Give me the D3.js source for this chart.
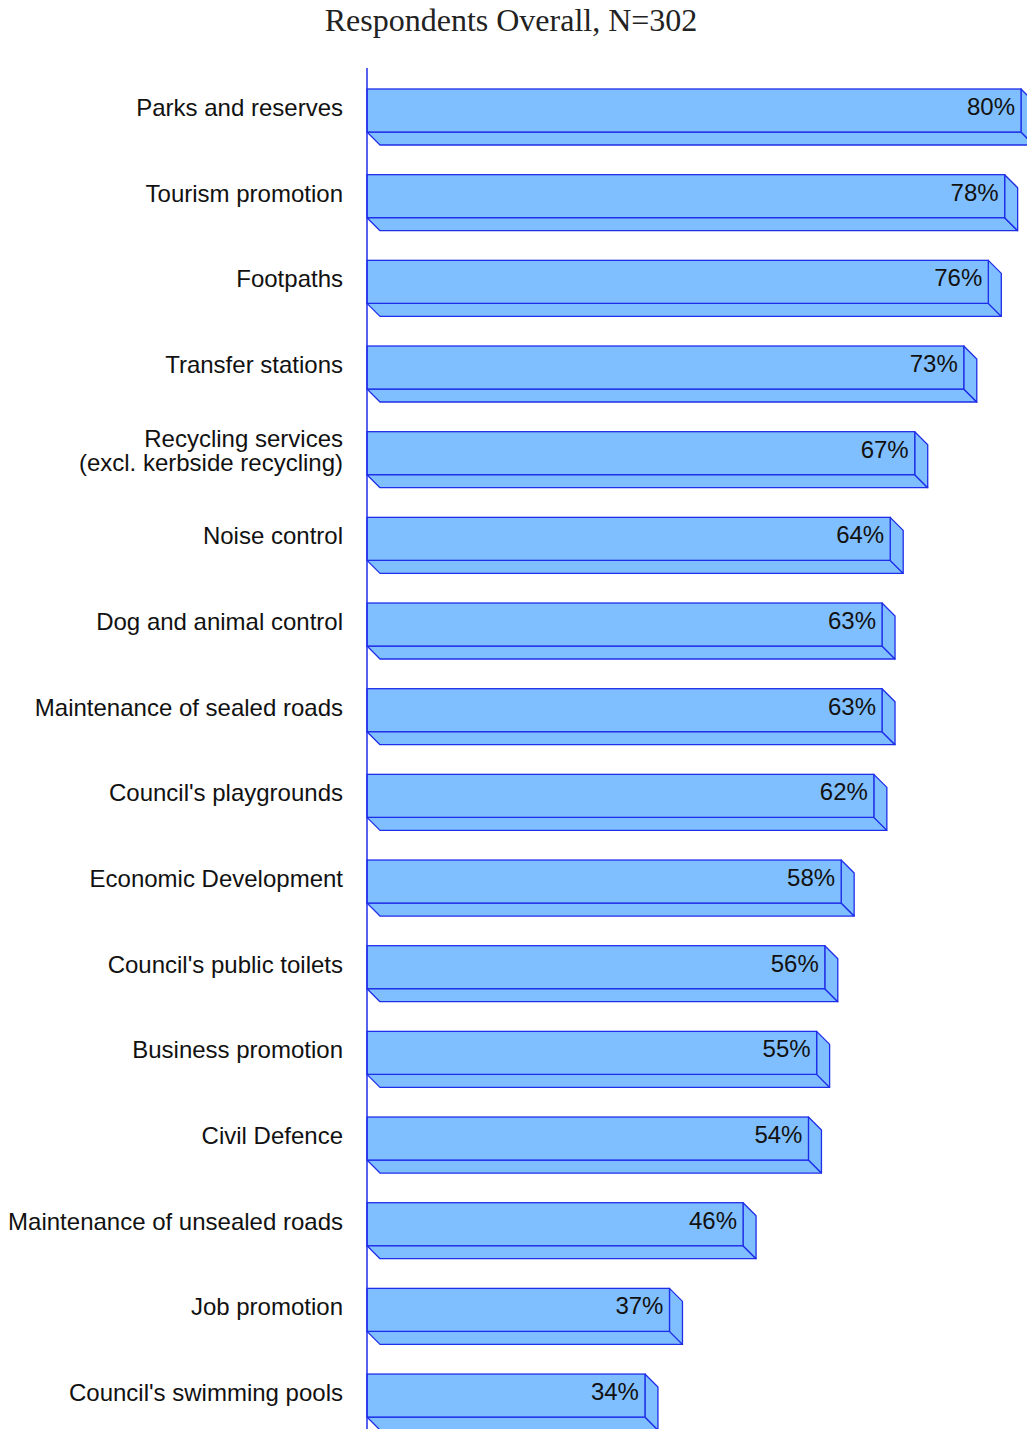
<!DOCTYPE html>
<html>
<head>
<meta charset="utf-8">
<script src="https://cdn.jsdelivr.net/npm/d3@7"></script>
<style>
  html, body { margin: 0; padding: 0; background: #fff; }
  svg { display: block; }
</style>
</head>
<body>
<script>
// Service importance ratings, share of respondents
const categories = [
  "Parks and reserves",
  "Tourism promotion",
  "Footpaths",
  "Transfer stations",
  "Recycling services\n(excl. kerbside recycling)",
  "Noise control",
  "Dog and animal control",
  "Maintenance of sealed roads",
  "Council's playgrounds",
  "Economic Development",
  "Council's public toilets",
  "Business promotion",
  "Civil Defence",
  "Maintenance of unsealed roads",
  "Job promotion",
  "Council's swimming pools"
];
const values = [80, 78, 76, 73, 67, 64, 63, 63, 62, 58, 56, 55, 54, 46, 37, 34];
const valueLabels = values.map(v => v + "%");
const titleText = "Respondents Overall, N=302";

const W = 1027, H = 1429;
const x0 = 367;
const depth = 13;
const fill = "#80bfff";
const stroke = "#1f2ee8";
const sans = "'Liberation Sans', Arial, sans-serif";

const svg = d3.select("body").append("svg")
  .attr("width", W).attr("height", H);

// Horizontal value scale: 0–80% spans the plotting width
const x = d3.scaleLinear().domain([0, 80]).range([x0, 1021]);

// Band positions for the bar front faces
const step = 85.67;
const faceH = 43;
const y = d3.scaleBand()
  .domain(categories)
  .range([89, 89 + step * categories.length])
  .paddingInner(0)
  .paddingOuter(0);

svg.append("text")
  .attr("x", 511).attr("y", 31)
  .attr("text-anchor", "middle")
  .attr("font-family", "'Liberation Serif', 'DejaVu Serif', serif")
  .attr("font-size", 32)
  .attr("fill", "#222")
  .text(titleText);

const bars = svg.append("g");

categories.forEach((c, i) => {
  const top = y(c);
  const bot = top + faceH;
  const xr = x(values[i]);
  const g = bars.append("g");
  // floor face
  g.append("path")
    .attr("d", `M${x0},${bot} L${xr},${bot} L${xr + depth},${bot + depth} L${x0 + depth},${bot + depth} Z`)
    .attr("fill", fill).attr("stroke", stroke).attr("stroke-width", 1.3).attr("stroke-linejoin", "round");
  // side face
  g.append("path")
    .attr("d", `M${xr},${top} L${xr + depth},${top + depth} L${xr + depth},${bot + depth} L${xr},${bot} Z`)
    .attr("fill", fill).attr("stroke", stroke).attr("stroke-width", 1.3).attr("stroke-linejoin", "round");
  // front face
  g.append("rect")
    .attr("x", x0).attr("y", top)
    .attr("width", xr - x0).attr("height", faceH)
    .attr("fill", fill).attr("stroke", stroke).attr("stroke-width", 1.3);
  // value label
  g.append("text")
    .attr("x", xr - 6).attr("y", top + 26)
    .attr("text-anchor", "end")
    .attr("font-family", sans)
    .attr("font-size", 24)
    .attr("fill", "#111")
    .text(valueLabels[i]);
  // category label
  const lines = c.split("\n");
  const t = svg.append("text")
    .attr("text-anchor", "end")
    .attr("font-family", sans)
    .attr("font-size", 24)
    .attr("fill", "#111");
  const base = top + 27 - (lines.length - 1) * 12;
  lines.forEach((ln, k) => {
    t.append("tspan")
      .attr("x", 343)
      .attr("y", base + k * 24)
      .text(ln);
  });
});

// Category axis line
svg.append("line")
  .attr("x1", x0).attr("x2", x0)
  .attr("y1", 68).attr("y2", H)
  .attr("stroke", stroke).attr("stroke-width", 1.5);
</script>
</body>
</html>
